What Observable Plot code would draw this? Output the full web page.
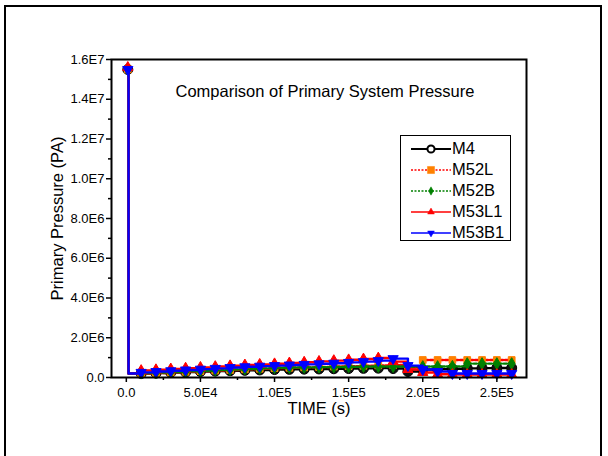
<!DOCTYPE html>
<html>
<head>
<meta charset="utf-8">
<script src="https://cdn.jsdelivr.net/npm/d3@7"></script>
<script src="https://cdn.jsdelivr.net/npm/@observablehq/plot@0.6"></script>
<style>
  body { margin: 0; background: #fff; font-family: Arial, "Liberation Sans", sans-serif; }
  #wrap { position: relative; width: 608px; height: 456px; overflow: hidden; }
  #border { position: absolute; left: 4px; top: 5px; width: 598px; height: 470px; border: 2px solid #000; box-sizing: border-box; }
  #chart { position: absolute; left: 0; top: 0; }
  #legend { position: absolute; left: 400px; top: 135px; width: 111px; height: 106px; border: 1.5px solid #000; background: #fff; box-sizing: border-box; padding-top: 2px; }
  .row { display: flex; align-items: center; height: 21px; font-size: 16.5px; color: #000; }
  .row svg { margin-left: 10px; margin-right: 1px; }
</style>
</head>
<body>
<div id="wrap">
  <div id="border"></div>
  <div id="chart"></div>
  <div id="legend"></div>
</div>
<script>
// ---- data (time in s, pressure in Pa) ----
const time = [1000, 1500,
  10000, 20000, 30000, 40000, 50000, 60000, 70000, 80000, 90000, 100000,
  110000, 120000, 130000, 140000, 150000, 160000, 170000, 180000, 190000, 200000,
  210000, 220000, 230000, 240000, 250000, 260000];

const M4 = [1.55e7, 2.0e5,
  2.0e5, 2.2e5, 2.5e5, 2.7e5, 3.0e5, 3.2e5, 3.4e5, 3.6e5, 3.8e5, 4.0e5,
  4.1e5, 4.2e5, 4.3e5, 4.4e5, 4.5e5, 4.6e5, 4.7e5, 4.5e5, 3.0e5, 4.0e5,
  4.2e5, 4.4e5, 4.6e5, 4.7e5, 4.8e5, 4.8e5];

const M52L = [1.55e7, 2.0e5,
  2.0e5, 2.3e5, 2.6e5, 2.9e5, 3.2e5, 3.5e5, 3.8e5, 4.1e5, 4.4e5, 4.7e5,
  4.9e5, 5.1e5, 5.3e5, 5.5e5, 5.7e5, 5.9e5, 6.1e5, 6.3e5, 5.0e5, 8.8e5,
  8.8e5, 8.8e5, 8.8e5, 8.8e5, 8.8e5, 8.8e5];

const M52B = [1.55e7, 2.0e5,
  2.2e5, 2.5e5, 2.8e5, 3.1e5, 3.4e5, 3.7e5, 4.0e5, 4.3e5, 4.6e5, 4.9e5,
  5.0e5, 5.1e5, 5.2e5, 5.3e5, 5.4e5, 5.5e5, 5.5e5, 5.5e5, 5.5e5, 5.5e5,
  5.5e5, 5.6e5, 7.0e5, 7.0e5, 7.0e5, 7.0e5];

const M53L1 = [1.56e7, 2.0e5,
  3.5e5, 3.9e5, 4.3e5, 4.7e5, 5.1e5, 5.5e5, 5.9e5, 6.3e5, 6.6e5, 6.9e5,
  7.3e5, 7.7e5, 8.1e5, 8.5e5, 8.9e5, 9.3e5, 9.8e5, 8.0e5, 4.0e5, 2.5e5,
  1.6e5, 1.5e5, 1.5e5, 1.5e5, 1.5e5, 1.5e5];

const M53B1 = [1.55e7, 2.0e5,
  2.6e5, 3.0e5, 3.4e5, 3.8e5, 4.2e5, 4.6e5, 5.0e5, 5.4e5, 5.7e5, 6.0e5,
  6.3e5, 6.6e5, 6.9e5, 7.2e5, 7.6e5, 8.0e5, 8.5e5, 9.5e5, 6.0e5, 4.0e5,
  3.0e5, 2.0e5, 2.0e5, 2.0e5, 2.0e5, 2.0e5];

const seriesNames = ["M4", "M52L", "M52B", "M53L1", "M53B1"];
const seriesValues = [M4, M52L, M52B, M53L1, M53B1];

const xTicks = [0, 50000, 100000, 150000, 200000, 250000];
const xMinor = [25000, 75000, 125000, 175000, 225000];
const yTicks = [0, 2e6, 4e6, 6e6, 8e6, 1e7, 1.2e7, 1.4e7, 1.6e7];
const yMinor = [1e6, 3e6, 5e6, 7e6, 9e6, 1.1e7, 1.3e7, 1.5e7];

const titleText = "Comparison of Primary System Pressure";
const xLabel = "TIME (s)";
const yLabel = "Primary Pressure (PA)";

// ---- styles ----
const triDown = {
  draw(ctx, size) {
    const y = -Math.sqrt(size / (Math.sqrt(3) * 3));
    ctx.moveTo(0, -y * 2);
    ctx.lineTo(-Math.sqrt(3) * y, y);
    ctx.lineTo(Math.sqrt(3) * y, y);
    ctx.closePath();
  }
};
const styles = {
  M4:    {stroke: "#000000", dash: null,  mfill: "#111", mstroke: "#000", symbol: "circle",   r: 5},
  M52L:  {stroke: "#ff0000", dash: "3,2", mfill: "#ff8000", mstroke: "#ff8000", symbol: "square", r: 3.8},
  M52B:  {stroke: "#008000", dash: "3,2", mfill: "#008000", mstroke: "#008000", symbol: "diamond", r: 3.6},
  M53L1: {stroke: "#ff0000", dash: null,  mfill: "#ff0000", mstroke: "#ff0000", symbol: "triangle", r: 3.8},
  M53B1: {stroke: "#0000ff", dash: null,  mfill: "#0000ff", mstroke: "#0000ff", symbol: triDown, r: 3.8}
};

const fmt = v => v === 0 ? "0.0" : v.toExponential(1).replace("e+", "E");

const data = [];
seriesNames.forEach((name, i) => {
  time.forEach((t, j) => data.push({series: name, t, p: seriesValues[i][j]}));
});

const marks = [];
seriesNames.forEach(name => {
  const s = styles[name];
  const d = data.filter(r => r.series === name);
  marks.push(Plot.line(d, {x: "t", y: "p", stroke: s.stroke, strokeWidth: 2.4,
    strokeDasharray: s.dash, curve: "step-after"}));
  marks.push(Plot.dot(d.filter((r, j) => j !== 1), {x: "t", y: "p", symbol: s.symbol, r: s.r,
    fill: s.mfill, stroke: s.mstroke, strokeWidth: 1}));
});

const chart = Plot.plot({
  width: 608,
  height: 456,
  marginLeft: 111,
  marginTop: 59,
  marginRight: 82,
  marginBottom: 79,
  style: {fontFamily: "Arial, 'Liberation Sans', sans-serif", fontSize: "13px", color: "#000", background: "transparent"},
  x: {domain: [-10000, 270000]},
  y: {domain: [0, 1.6e7]},
  marks: [
    ...marks,
    Plot.frame({stroke: "#000", strokeWidth: 2}),
    Plot.axisX(xTicks, {tickSize: 5, tickPadding: 5, tickFormat: fmt, strokeWidth: 1.5, label: null, fontSize: 13}),
    Plot.axisX(xMinor, {tickSize: 3, tickFormat: () => "", strokeWidth: 1.5, label: null}),
    Plot.axisY(yTicks, {tickSize: 5, tickPadding: 2, tickFormat: fmt, strokeWidth: 1.5, label: null, fontSize: 13}),
    Plot.axisY(yMinor, {tickSize: 3, tickFormat: () => "", strokeWidth: 1.5, label: null}),
    Plot.text([titleText], {frameAnchor: "top-left", dx: 64, dy: 32, text: d => d, textAnchor: "start", lineAnchor: "middle", fontSize: 16.5}),
    Plot.text([xLabel], {frameAnchor: "bottom", dy: 31, text: d => d, textAnchor: "middle", lineAnchor: "middle", fontSize: 16.5}),
    Plot.text([yLabel], {frameAnchor: "left", dx: -54, text: d => d, rotate: -90, textAnchor: "middle", lineAnchor: "middle", fontSize: 16.5})
  ]
});
document.getElementById("chart").appendChild(chart);

// ---- legend ----
const legend = document.getElementById("legend");
seriesNames.forEach(name => {
  const s = styles[name];
  const row = document.createElement("div");
  row.className = "row";
  const ns = "http://www.w3.org/2000/svg";
  const svg = document.createElementNS(ns, "svg");
  svg.setAttribute("width", 40); svg.setAttribute("height", 14);
  const ln = document.createElementNS(ns, "line");
  ln.setAttribute("x1", 0); ln.setAttribute("x2", 40); ln.setAttribute("y1", 7); ln.setAttribute("y2", 7);
  ln.setAttribute("stroke", s.stroke); ln.setAttribute("stroke-width", name === "M4" ? 2 : 1.5);
  if (s.dash) ln.setAttribute("stroke-dasharray", "2,1.5");
  svg.appendChild(ln);
  const path = document.createElementNS(ns, "path");
  const symType = typeof s.symbol === "string"
    ? {circle: d3.symbolCircle, square: d3.symbolSquare, diamond: d3.symbolDiamond, triangle: d3.symbolTriangle}[s.symbol]
    : s.symbol;
  const size = name === "M4" ? 40 : (name === "M52L" ? 50 : 20);
  path.setAttribute("d", d3.symbol(symType, size)());
  path.setAttribute("transform", "translate(20,7)");
  path.setAttribute("fill", name === "M4" ? "#fff" : s.mfill);
  path.setAttribute("stroke", name === "M4" ? "#000" : s.mstroke);
  path.setAttribute("stroke-width", name === "M4" ? 2 : 0.5);
  svg.appendChild(path);
  row.appendChild(svg);
  const span = document.createElement("span");
  span.textContent = name;
  row.appendChild(span);
  legend.appendChild(row);
});
</script>
</body>
</html>
